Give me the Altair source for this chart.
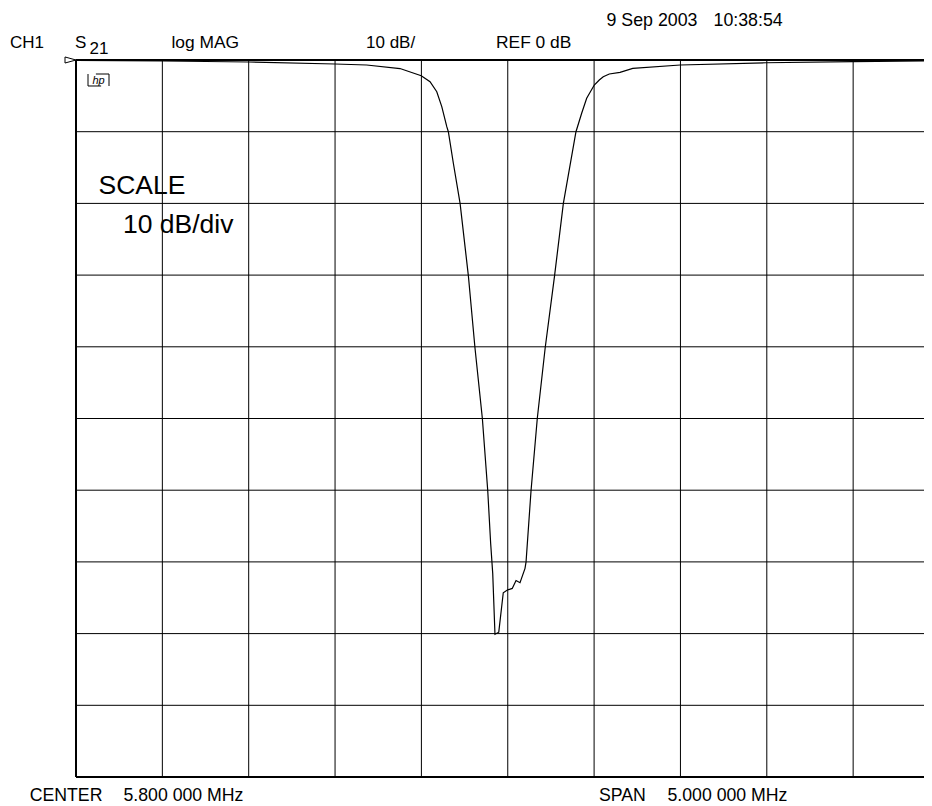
import altair as alt
import pandas as pd

FONT = "Liberation Sans"

# ---- Sweep settings -------------------------------------------------------
CENTER_MHZ = 5.8
SPAN_MHZ = 5.0
REF_DB = 0.0
SCALE_DB = 10.0
N_DIV = 10

freq_mhz = [3.300, 3.804, 4.302, 4.800, 4.983, 5.176, 5.299, 5.350, 5.389,
            5.418, 5.447, 5.456, 5.485, 5.524, 5.572, 5.610, 5.653, 5.684,
            5.701, 5.713, 5.726, 5.748, 5.774, 5.800, 5.826, 5.848, 5.871,
            5.900, 5.906, 5.935, 5.971, 6.017, 6.071, 6.122, 6.195, 6.228,
            6.257, 6.301, 6.330, 6.353, 6.388, 6.450, 6.524, 6.799, 7.295,
            7.797, 8.257, 8.300]
s21_db = [-0.05, -0.14, -0.28, -0.56, -0.70, -1.19, -2.19, -3.03, -4.42,
          -6.51, -9.30, -10.0, -14.4, -20.0, -30.1, -40.1, -50.0, -60.0,
          -67.4, -71.6, -80.1, -79.8, -74.3, -73.9, -73.7, -72.6, -72.9,
          -70.9, -70.0, -60.0, -50.0, -40.1, -30.1, -20.0, -10.0, -7.43,
          -5.34, -3.49, -2.79, -2.33, -1.95, -1.72, -1.16, -0.70, -0.38,
          -0.24, -0.10, -0.08]

start_mhz = CENTER_MHZ - SPAN_MHZ / 2
stop_mhz = CENTER_MHZ + SPAN_MHZ / 2
freq_grid = [start_mhz + i * SPAN_MHZ / N_DIV for i in range(N_DIV + 1)]
db_grid = [REF_DB - i * SCALE_DB for i in range(N_DIV + 1)]
db_bottom = REF_DB - N_DIV * SCALE_DB

# ---- Layout ---------------------------------------------------------------
FULL_W = 863.5      # ten divisions wide; the right edge falls outside the window
VIEW_W = 848
VIEW_H = 717
visible_stop = start_mhz + (stop_mhz - start_mhz) * VIEW_W / FULL_W

xs = alt.Scale(domain=[start_mhz, visible_stop], nice=False, zero=False)
ys = alt.Scale(domain=[db_bottom, REF_DB], nice=False, zero=False)

trace_df = pd.DataFrame({"freq": freq_mhz, "db": s21_db})

vgrid = alt.Chart(pd.DataFrame({"f": freq_grid[1:]})).mark_rule(
    color="black", strokeWidth=1, clip=True
).encode(x=alt.X("f:Q", scale=xs, axis=None))

hgrid = alt.Chart(pd.DataFrame({"d": db_grid[1:-1]})).mark_rule(
    color="black", strokeWidth=1
).encode(y=alt.Y("d:Q", scale=ys, axis=None))

hborder = alt.Chart(pd.DataFrame({"d": [db_grid[0], db_grid[-1]]})).mark_rule(
    color="black", strokeWidth=2
).encode(y=alt.Y("d:Q", scale=ys, axis=None))

vborder = alt.Chart(pd.DataFrame({"f": [freq_grid[0]]})).mark_rule(
    color="black", strokeWidth=2
).encode(x=alt.X("f:Q", scale=xs, axis=None))

trace = alt.Chart(trace_df).mark_line(
    color="black", strokeWidth=1.2, clip=True
).encode(
    x=alt.X("freq:Q", scale=xs, axis=None),
    y=alt.Y("db:Q", scale=ys, axis=None),
)

one = pd.DataFrame({"k": [0]})

ref_marker = alt.Chart(one).mark_point(
    shape="M-1,-0.55L1,0L-1,0.55Z", filled=False, stroke="black",
    strokeWidth=1, size=121, opacity=1
).encode(x=alt.value(-5.5), y=alt.value(0))

logo_box = alt.Chart(one).mark_point(
    shape="M-1,-0.57L-1,0.57L0.25,0.57M1,0.57L1,-0.57L-0.25,-0.57",
    filled=False, stroke="black", strokeWidth=1, size=441, opacity=1
).encode(x=alt.value(22.5), y=alt.value(20))


def label(text, x, y, size, **kw):
    return alt.Chart(pd.DataFrame({"t": [text]})).mark_text(
        align="left", baseline="alphabetic", font=FONT, fontSize=size,
        color="black", **kw
    ).encode(x=alt.value(x), y=alt.value(y), text="t:N")


logo_text = alt.Chart(pd.DataFrame({"t": ["hp"]})).mark_text(
    align="center", baseline="middle", font=FONT, fontSize=11,
    fontStyle="italic", color="black"
).encode(x=alt.value(22.5), y=alt.value(20.5), text="t:N")

BOTTOM_Y = 741.0

labels = [
    label("CH1", -66, -11.7, 17),
    label("S", -1, -11.7, 17),
    label("21", 13.5, -6, 17),
    label("log MAG", 95.5, -11.7, 17.4),
    label("10 dB/", 290, -11.7, 17),
    label("REF 0 dB", 420, -11.7, 17.4),
    label("9 Sep 2003", 530.5, -34, 17.8),
    label("10:38:54", 637.5, -34, 17.8),
    label("CENTER", -46.3, BOTTOM_Y, 17.7),
    label("5.800 000 MHz", 47.5, BOTTOM_Y, 17.7),
    label("SPAN", 523, BOTTOM_Y, 17.7),
    label("5.000 000 MHz", 591.5, BOTTOM_Y, 17.7),
    label("SCALE", 22.5, 134, 26.5),
    label("10 dB/div", 47, 173.3, 26.5),
]

chart = alt.layer(
    vgrid, hgrid, hborder, vborder, trace, ref_marker, logo_box, logo_text,
    *labels
).properties(
    width=VIEW_W,
    height=VIEW_H,
    autosize=alt.AutoSizeParams(type="none"),
    padding={"left": 68, "top": 52, "right": 0, "bottom": 27},
    background="white",
).configure_view(stroke=None)

chart.save("out.html", embed_options={"renderer": "svg", "actions": False})
